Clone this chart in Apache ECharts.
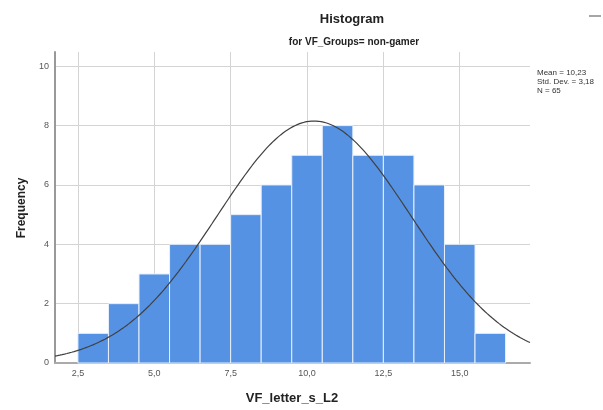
<!DOCTYPE html>
<html>
<head>
<meta charset="utf-8">
<script src="https://cdn.jsdelivr.net/npm/echarts@6/dist/echarts.min.js"></script>
<style>
  html, body { margin: 0; padding: 0; background: #fff; }
  #chart { width: 603px; height: 410px; }
</style>
</head>
<body>
<div id="chart"></div>
<script>
// Histogram of VF_letter_s_L2 for the non-gamer group
const binStart = 2.5;
const binWidth = 1;
const frequencies = [1, 2, 3, 4, 4, 5, 6, 7, 8, 7, 7, 6, 4, 1];
const xTicks = [2.5, 5.0, 7.5, 10.0, 12.5, 15.0];
const yTicks = [0, 2, 4, 6, 8, 10];
const mean = 10.23;
const stdDev = 3.18;
const n = 65;

const font = '"Liberation Sans", Arial, sans-serif';
const fmt = v => v.toFixed(1).replace('.', ',');
const fmt2 = v => v.toFixed(2).replace('.', ',');

const xMin = 1.75, xMax = 17.3;

const bins = frequencies.map((f, i) => [binStart + i * binWidth, binStart + (i + 1) * binWidth, f]);

// Normal density scaled to counts per bin (N * binWidth * pdf)
const curve = [];
const steps = 200;
for (let i = 0; i <= steps; i++) {
  const x = xMin + (xMax - xMin) * i / steps;
  const z = (x - mean) / stdDev;
  const y = n * binWidth * Math.exp(-0.5 * z * z) / (stdDev * Math.sqrt(2 * Math.PI));
  curve.push([x, y]);
}

const chart = echarts.init(document.getElementById('chart'), null, { renderer: 'canvas' });
chart.setOption({
  animation: false,
  backgroundColor: '#ffffff',
  textStyle: { fontFamily: font },
  grid: { left: 55, right: 73, top: 52, bottom: 47, containLabel: false },
  xAxis: {
    type: 'value',
    min: xMin,
    max: xMax,
    axisLine: { show: true, lineStyle: { color: '#aaaaaa', width: 2 } },
    axisTick: { show: false, customValues: xTicks },
    axisLabel: { customValues: xTicks, formatter: v => fmt(v), color: '#555', fontSize: 9, margin: 6 },
    splitLine: { show: true, lineStyle: { color: '#d4d4d4', width: 1 } }
  },
  yAxis: {
    type: 'value',
    min: 0,
    max: 10.48,
    axisLine: { show: true, lineStyle: { color: '#999999', width: 2 } },
    axisTick: { show: false, customValues: yTicks },
    axisLabel: { customValues: yTicks, color: '#555', fontSize: 9, margin: 6 },
    splitLine: { show: true, lineStyle: { color: '#d4d4d4', width: 1 } }
  },
  series: [
    {
      type: 'custom',
      data: bins,
      encode: { x: [0, 1], y: 2 },
      renderItem: (params, api) => {
        const p0 = api.coord([api.value(0), 0]);
        const p1 = api.coord([api.value(1), api.value(2)]);
        return {
          type: 'rect',
          shape: { x: p0[0], y: p1[1], width: p1[0] - p0[0], height: p0[1] - p1[1] },
          style: { fill: '#5592e3', stroke: '#e8f0fb', lineWidth: 1 }
        };
      },
      z: 2
    },
    {
      type: 'line',
      data: curve,
      showSymbol: false,
      smooth: false,
      lineStyle: { color: '#404040', width: 1.2 },
      z: 3
    }
  ],
  graphic: [
    { type: 'text', style: { text: 'Histogram', x: 352, y: 19, fill: '#222', font: 'bold 13px ' + font, align: 'center', verticalAlign: 'middle' } },
    { type: 'text', style: { text: 'for VF_Groups= non-gamer', x: 354, y: 42, fill: '#222', font: 'bold 10px ' + font, align: 'center', verticalAlign: 'middle' } },
    { type: 'text', style: { text: 'Mean = ' + fmt2(mean) + '\nStd. Dev. = ' + fmt2(stdDev) + '\nN = ' + n, x: 537, y: 68, fill: '#333', font: '8px ' + font, lineHeight: 9 } },
    { type: 'line', shape: { x1: 589, y1: 16, x2: 601, y2: 16 }, style: { stroke: '#888', lineWidth: 1.5 } },
    { type: 'text', style: { text: 'Frequency', x: 22, y: 208, fill: '#222', font: 'bold 12px ' + font, align: 'center', verticalAlign: 'middle' }, rotation: Math.PI / 2, x: 0, y: 0, originX: 22, originY: 208 },
    { type: 'text', style: { text: 'VF_letter_s_L2', x: 292, y: 398, fill: '#222', font: 'bold 13px ' + font, align: 'center', verticalAlign: 'middle' } }
  ]
});
</script>
</body>
</html>
